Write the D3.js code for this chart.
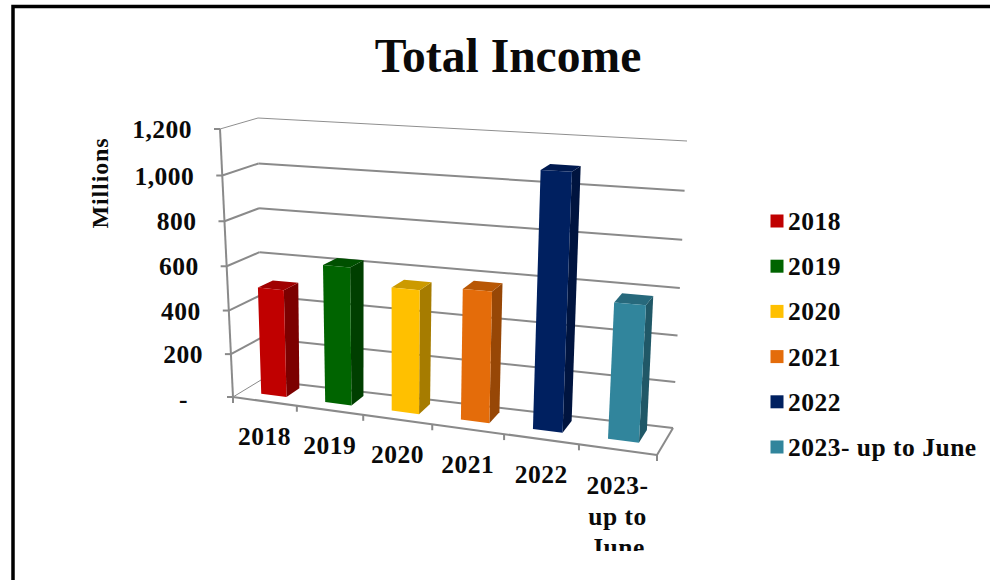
<!DOCTYPE html>
<html>
<head>
<meta charset="utf-8">
<script src="https://cdn.jsdelivr.net/npm/d3@7/dist/d3.min.js"></script>
<style>
html,body{margin:0;padding:0;background:#fff;overflow:hidden}
text{font-family:"Liberation Serif",serif;font-weight:bold;fill:#0a0a0a}
</style>
</head>
<body>
<svg id="c" width="990" height="580"></svg>
<script>
const categories = ["2018","2019","2020","2021","2022","2023- up to June"];
const axisLabelLines = [["2018"],["2019"],["2020"],["2021"],["2022"],["2023-","up to","June"]];
const values = [490, 618, 547, 570, 1085, 572];
const yTicks = [0,200,400,600,800,1000,1200];
const frontColors = ["#c00000","#006400","#ffc000","#e46c0a","#002060","#31859c"];
const sideColors  = ["#7c0000","#003f00","#a67c00","#974706","#00143f","#205867"];
const topColors   = ["#a00000","#005000","#cc9a00","#b85705","#001a50","#27697c"];

const svg = d3.select("#c");
const FL=[233,397],FR=[657,455],BL=[261,380],BR=[673,428];
const FLt=[220,129],FRt=[675,152],BLt=[258,118],BRt=[687,141];
const warp=(t,w)=>t/(w+(1-w)*t);
const lerp=(a,b,t)=>[a[0]+(b[0]-a[0])*t,a[1]+(b[1]-a[1])*t];
const uScale=d3.scaleLinear().domain([0,6]).range([0,1]);
const yScale=d3.scaleLinear().domain([0,1200]).range([0,1]);
const band=d3.scaleBand().domain(categories).range([0,6]).paddingInner(.6).paddingOuter(.3);
function P(u,v,val){
  const s=warp(uScale(u),1.128), r=warp(yScale(val),1.05);
  const bot=lerp(lerp(FL,FR,s),lerp(BL,BR,s),v);
  const top=lerp(lerp(FLt,FRt,s),lerp(BLt,BRt,s),v);
  return lerp(bot,top,r);
}
const grey="#8a8a8a";
const line=(a,b,c=grey,w=2)=>svg.append("line").attr("x1",a[0]).attr("y1",a[1]).attr("x2",b[0]).attr("y2",b[1]).attr("stroke",c).attr("stroke-width",w);
const poly=(pts,f)=>svg.append("polygon").attr("points",pts.map(p=>p.join(",")).join(" ")).attr("fill",f);

// frame
svg.append("path").attr("d","M13,580V6.5H990").attr("fill","none").attr("stroke","#000").attr("stroke-width",3.5);

// title
svg.append("text").attr("x",508).attr("y",72).attr("text-anchor","middle").attr("font-size",47.6).text("Total Income");

// gridlines
yTicks.forEach(t=>{
  const w=t===1200?1:2, c=t===1200?"#8f8f8f":grey;
  line(P(0,1,t),P(6,1,t),c,w);
  line(P(0,0,t),P(0,1,t),c,t===0?1:w);
  line(P(0,0,t),[P(0,0,t)[0]-6,P(0,0,t)[1]],grey,2);
});
// axes
line(P(0,0,0),P(0,0,1200),grey,2);
line(P(0,0,0),P(6,0,0),grey,2);
line(P(6,0,0),P(6,1,0),grey,2);
d3.range(0,7).forEach(u=>{const p=P(u,0,0);line(p,[p[0],p[1]+6],grey,2);});

// y tick labels
const fmt=d3.format(",");
yTicks.forEach(t=>{
  const p=P(0,0,t);
  svg.append("text").attr("x",t===0?p[0]-45:p[0]-28).attr("y",t===0?p[1]+11:p[1]+9)
    .attr("text-anchor","end").attr("font-size",25.5).attr("letter-spacing",.5)
    .text(t===0?"-":fmt(t));
});
// y title
svg.append("text").attr("transform","translate(108,183) rotate(-90)").attr("text-anchor","middle")
  .attr("font-size",24).attr("letter-spacing",.9).text("Millions");

// bars
const v0=.34,v1=.82;
categories.forEach((c,i)=>{
  const a=band(c), b=a+band.bandwidth(), val=values[i];
  poly([P(b,v0,0),P(b,v1,0),P(b,v1,val),P(b,v0,val)],sideColors[i]);
  poly([P(a,v0,val),P(b,v0,val),P(b,v1,val),P(a,v1,val)],topColors[i]);
  poly([P(a,v0,0),P(b,v0,0),P(b,v0,val),P(a,v0,val)],frontColors[i]);
});

// category labels (clipped at the bottom as in the source)
svg.append("clipPath").attr("id","lab").append("rect").attr("x",0).attr("y",0).attr("width",990).attr("height",551);
const labG=svg.append("g").attr("clip-path","url(#lab)");
axisLabelLines.forEach((lines,i)=>{
  const p=P(i+.5,0,0);
  lines.forEach((l,j)=>{
    labG.append("text").attr("x",p[0]).attr("y",p[1]+44+j*31).attr("text-anchor","middle")
      .attr("font-size",25.5).attr("letter-spacing",.5).text(l);
  });
});

// legend
const legY=d3.scalePoint().domain(categories).range([221,447]);
categories.forEach((c,i)=>{
  svg.append("rect").attr("x",770.5).attr("y",legY(c)-6.5).attr("width",13).attr("height",13).attr("fill",frontColors[i]);
  svg.append("text").attr("x",788).attr("y",legY(c)+9).attr("font-size",25.5).attr("letter-spacing",.5).text(c);
});
</script>
</body>
</html>
